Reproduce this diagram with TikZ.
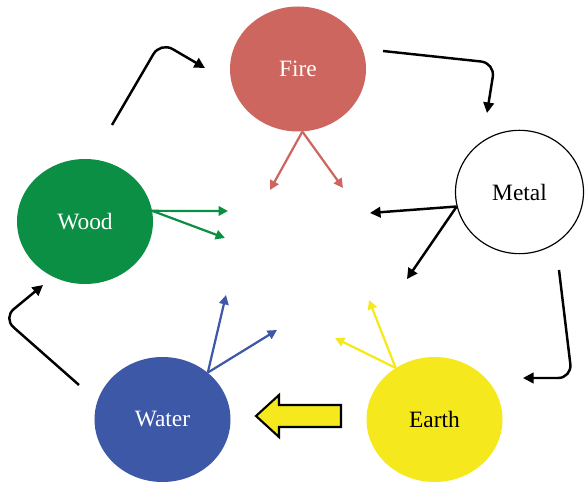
\documentclass[tikz,border=0pt]{standalone}
\usepackage{fontspec}
\setmainfont{Liberation Serif}
\usepackage{xcolor}
\usetikzlibrary{shapes.geometric,arrows.meta}
\definecolor{firered}{RGB}{205,102,94}
\definecolor{woodgreen}{RGB}{10,143,68}
\definecolor{waterblue}{RGB}{60,88,167}
\definecolor{earthyellow}{RGB}{245,232,28}

\begin{document}
\begin{tikzpicture}[x=0.03cm,y=-0.03cm,>={Triangle[length=9pt,width=9pt]},
			elem/.style={ellipse,inner sep=0pt,minimum width=4.08cm,minimum height=3.75cm,font=\fontsize{20}{24}\selectfont},
			shengline/.style={->,line width=2.1pt,rounded corners=12pt},
			keline/.style={->,line width=1.9pt,>={Triangle[length=8pt,width=8pt]}},
			]
			\useasboundingbox (0,0) rectangle (585,485);
			
			% 五行
			\node[elem,fill=firered,text=white] (fire) at (298,69) {Fire};
			\node[elem,draw,line width=1pt,minimum width=3.84cm,minimum height=3.7cm] (metal) at (519.5,192) {Metal};
			\node[elem,fill=woodgreen,text=white] (wood) at (85,221.5) {Wood};
			\node[elem,fill=waterblue,text=white] (water) at (162.5,419.5) {Water};
			\node[elem,fill=earthyellow] (earth) at (434.5,419.5) {Earth};
			
			% 相生：外圈
			\coordinate (s1a) at (112,125); \coordinate (s1b) at (160.5,42); \coordinate (s1c) at (205,68);
			\coordinate (s2a) at (383,51);  \coordinate (s2b) at (495,63);   \coordinate (s2c) at (487,113);
			\coordinate (s3a) at (559,270); \coordinate (s3b) at (572,378);  \coordinate (s3c) at (523,378);
			\coordinate (s4a) at (79,385);  \coordinate (s4b) at (3,318);    \coordinate (s4c) at (43,285);
			\draw[shengline] (s1a) -- (s1b) -- (s1c);
			\draw[shengline] (s2a) -- (s2b) -- (s2c);
			\draw[shengline] (s3a) -- (s3b) -- (s3c);
			\draw[shengline] (s4a) -- (s4b) -- (s4c);
			
			% 相克：向内
			\coordinate (f1) at (270,190); \coordinate (f2) at (343,188);
			\coordinate (w1) at (228,211); \coordinate (w2) at (225,238);
			\coordinate (m1) at (370,213); \coordinate (m2) at (407,279);
			\coordinate (a1) at (226,295); \coordinate (a2) at (277,330);
			\coordinate (e1) at (369,300); \coordinate (e2) at (335,338);
			\draw[keline,firered] (fire.-86) -- (f1);
			\draw[keline,firered] (fire.-86) -- (f2);
			\draw[keline,woodgreen] (wood.9) -- (w1);
			\draw[keline,woodgreen] (wood.9) -- (w2);
			\draw[keline,black,line width=2.1pt,>={Triangle[length=9pt,width=9pt]}] (metal.193) -- (m1);
			\draw[keline,black,line width=2.1pt,>={Triangle[length=9pt,width=9pt]}] (metal.193) -- (m2);
			\draw[keline,waterblue] (water.46) -- (a1);
			\draw[keline,waterblue] (water.46) -- (a2);
			\draw[keline,earthyellow] (earth.127) -- (e1);
			\draw[keline,earthyellow] (earth.127) -- (e2);
			
			% 大箭头
			\draw[fill=earthyellow,line width=1.8pt] (341,405) -- (279,405) -- (279,395) -- (256,416)
			-- (279,437) -- (279,427) -- (341,427) -- cycle;
		\end{tikzpicture}
\end{document}
